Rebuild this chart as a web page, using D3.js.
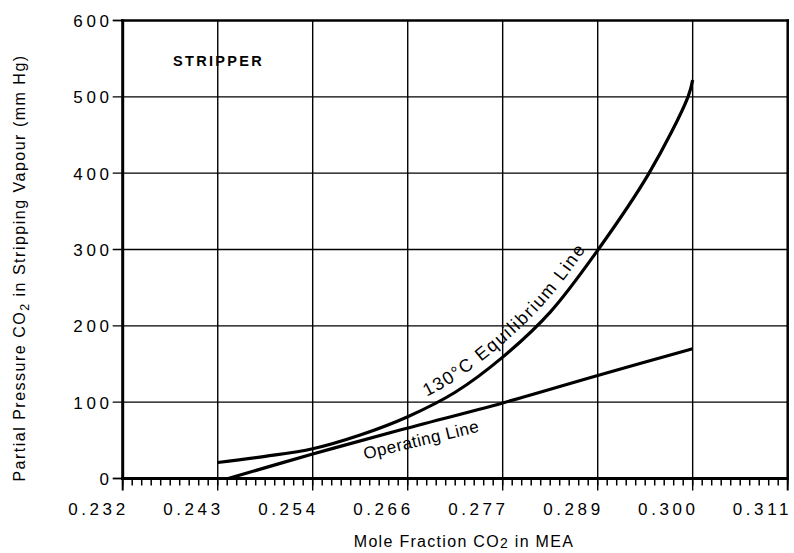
<!DOCTYPE html>
<html><head><meta charset="utf-8">
<script src="https://cdn.jsdelivr.net/npm/d3@7"></script>
<style>body{margin:0;background:#fff}svg{display:block}text{font-family:"Liberation Sans",Arial,Helvetica,sans-serif;fill:#000}</style>
</head><body><svg id="c" width="794" height="553"></svg>
<script>
// ---- data ----
const xTickValues = [0.232, 0.24329, 0.25457, 0.26586, 0.27714, 0.28843, 0.29971, 0.311];
const xTickLabels = ["0.232", "0.243", "0.254", "0.266", "0.277", "0.289", "0.300", "0.311"];
const yTickValues = [0, 100, 200, 300, 400, 500, 600];
const yTickLabels = ["0", "100", "200", "300", "400", "500", "600"];
const eqX = [0.24329, 0.24893, 0.25457, 0.26021, 0.26586, 0.27150, 0.27714, 0.28279, 0.28843, 0.29453, 0.29916, 0.29971];
const eqY = [21, 29, 39, 57, 81, 113, 159, 218, 299, 400, 500, 522];
const opX = [0.24453, 0.25457, 0.26495, 0.27714, 0.28843, 0.29971];
const opY = [0, 32, 63.5, 99, 135, 170];

// ---- layout ----
const L = 122.7, R = 787.7, T = 20.5, B = 478.5;
const svg = d3.select("#c");
const x = d3.scaleLinear().domain([0.232, 0.311]).range([L, R]);
const y = d3.scaleLinear().domain([0, 600]).range([B, T]);

// gridlines
const g = svg.append("g").attr("stroke", "#000").attr("stroke-width", 1.4);
xTickValues.slice(1, -1).forEach(v => {
  g.append("line").attr("x1", x(v)).attr("x2", x(v)).attr("y1", T).attr("y2", B + 12);
});
yTickValues.slice(1, -1).forEach(v => {
  g.append("line").attr("x1", L - 10).attr("x2", R).attr("y1", y(v)).attr("y2", y(v));
});
[0, 600].forEach(v => g.append("line").attr("x1", L - 10).attr("x2", L).attr("y1", y(v)).attr("y2", y(v)).attr("stroke-width", 1.8));
[0.232, 0.311].forEach(v => g.append("line").attr("x1", x(v)).attr("x2", x(v)).attr("y1", B).attr("y2", B + 12).attr("stroke-width", 2));

// minor ticks
const d0 = x.domain()[0], d1 = x.domain()[1];
d3.range(71).forEach(i => {
  const v = d0 + i * (d1 - d0) / 70;
  g.append("line").attr("x1", x(v)).attr("x2", x(v)).attr("y1", B).attr("y2", B + 7).attr("stroke-width", 1.5);
});

// frame
svg.append("line").attr("x1", L).attr("x2", L).attr("y1", T - 1.2).attr("y2", B + 1.5).attr("stroke", "#000").attr("stroke-width", 3);
svg.append("line").attr("x1", L - 1.5).attr("x2", R + 1.2).attr("y1", B).attr("y2", B).attr("stroke", "#000").attr("stroke-width", 3);
svg.append("line").attr("x1", L - 1.5).attr("x2", R + 1.2).attr("y1", T).attr("y2", T).attr("stroke", "#000").attr("stroke-width", 2.5);
svg.append("line").attr("x1", R).attr("x2", R).attr("y1", T - 1.2).attr("y2", B + 1).attr("stroke", "#000").attr("stroke-width", 2.5);

// tick labels
svg.append("g").selectAll("text").data(xTickValues).join("text")
  .attr("x", d => Math.min(x(d) + 6, 792)).attr("y", 515)
  .attr("text-anchor", "end").attr("font-size", 17).attr("letter-spacing", 3.6)
  .text((d, i) => xTickLabels[i]);
svg.append("g").selectAll("text").data(yTickValues).join("text")
  .attr("x", 112.5).attr("y", d => y(d) + 6.5)
  .attr("text-anchor", "end").attr("font-size", 17).attr("letter-spacing", 3.6)
  .text((d, i) => yTickLabels[i]);

// curves
const line = d3.line().x(d => x(d[0])).y(d => y(d[1])).curve(d3.curveCatmullRom.alpha(0.5));
const eqData = eqX.map((v, i) => [v, eqY[i]]);
const opData = opX.map((v, i) => [v, opY[i]]);
const eqPath = svg.append("path").attr("id", "eqp").attr("d", line(eqData))
  .attr("fill", "none").attr("stroke", "#000").attr("stroke-width", 3.2);
svg.append("path").attr("d", line(opData))
  .attr("fill", "none").attr("stroke", "#000").attr("stroke-width", 3.2);

// equilibrium label along the curve
const node = eqPath.node();
const len = node.getTotalLength();
let off = 0;
for (let s = 0; s < len; s += 0.5) { if (node.getPointAtLength(s).x >= 431) { off = s; break; } }
svg.append("text").attr("font-size", 18).attr("letter-spacing", 1.9).attr("dy", -10)
  .append("textPath").attr("href", "#eqp").attr("startOffset", off)
  .text("130°C Equilibrium Line");

// operating line label
svg.append("text").attr("transform", "translate(365,459.5) rotate(-13.7)")
  .attr("font-size", 17).attr("letter-spacing", 0.5).text("Operating Line");

// STRIPPER
svg.append("text").attr("x", 173).attr("y", 65.5).attr("font-size", 14.5).attr("font-weight", "bold")
  .attr("letter-spacing", 2.3).text("STRIPPER");

// axis titles
const xt = svg.append("text").attr("x", 464).attr("y", 546.5).attr("text-anchor", "middle")
  .attr("font-size", 16).attr("letter-spacing", 1.3);
xt.append("tspan").text("Mole Fraction CO");
xt.append("tspan").attr("font-size", 14).attr("dy", 1).text("2");
xt.append("tspan").attr("dy", -1).text(" in MEA");

const yt = svg.append("text").attr("transform", "translate(25,268) rotate(-90)").attr("text-anchor", "middle")
  .attr("font-size", 16).attr("letter-spacing", 1.5);
yt.append("tspan").text("Partial Pressure CO");
yt.append("tspan").attr("font-size", 12.5).attr("dy", 4).text("2");
yt.append("tspan").attr("dy", -4).text(" in Stripping Vapour (mm Hg)");
</script></body></html>
